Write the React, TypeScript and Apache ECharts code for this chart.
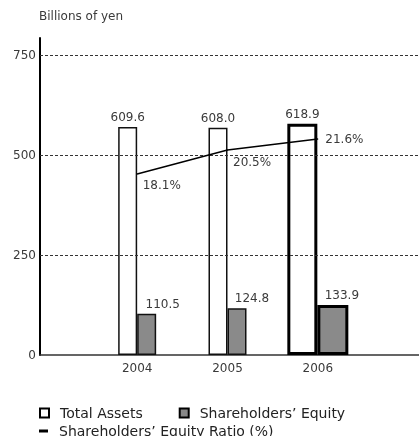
import React, { useEffect, useRef } from "react";
import * as echarts from "echarts";

const years = ["2004", "2005", "2006"];
const totalAssets = [609.6, 608.0, 618.9];
const equity = [110.5, 124.8, 133.9];
const equityRatio = [18.1, 20.5, 21.6];
const yTicks = [250, 500, 750];
const highlightIndex = 2;

const FONT = "DejaVu Sans";
const TXT = "#3a3a3a";

export default function App() {
  const ref = useRef<HTMLDivElement>(null);
  useEffect(() => {
    if (!ref.current) return;
    const chart = echarts.init(ref.current, undefined, { renderer: "svg" });

    const normal = (arr: number[]) => arr.map((v, i) => (i === highlightIndex ? "-" : v));
    const high = (arr: number[]) => arr.map((v, i) => (i === highlightIndex ? v : "-"));
    const eqOffsets = [[16, 0], [15, 0], [9, 0]];
    const ratioOffsets = [[0, 11], [0, 12], [2, 0]];

    const assetLabel = { show: true, position: "top", distance: 4, fontFamily: FONT, fontSize: 12, color: TXT, formatter: (p: any) => Number(p.value).toFixed(1) };
    const eqData = (arr: (number | string)[]) =>
      arr.map((v, i) => ({ value: v, label: { offset: eqOffsets[i] } }));

    chart.setOption({
      animation: false,
      title: {
        text: "Billions of yen",
        left: 39,
        top: 10,
        padding: 0,
        textStyle: { fontFamily: FONT, fontSize: 12, fontWeight: "normal", color: TXT },
      },
      legend: [
        {
          left: 39,
          top: 406,
          padding: 0,
          itemWidth: 9,
          itemHeight: 9,
          itemGap: 36,
          textStyle: { fontFamily: FONT, fontSize: 14, color: "#222", padding: [0, 0, 0, 6] },
          data: [
            { name: "Total Assets", icon: "rect", itemStyle: { color: "#fff", borderColor: "#000", borderWidth: 2 } },
            { name: "Shareholders’ Equity", icon: "rect", itemStyle: { color: "#888", borderColor: "#000", borderWidth: 2 } },
          ],
        },
        {
          left: 39,
          top: 424,
          padding: 0,
          itemWidth: 9,
          itemHeight: 3,
          textStyle: { fontFamily: FONT, fontSize: 14, color: "#222", padding: [0, 0, 0, 6] },
          data: [{ name: "Shareholders’ Equity Ratio (%)", icon: "rect", itemStyle: { color: "#000" } }],
        },
      ],
      grid: [
        { left: 40, right: 0, top: 38, bottom: 81 },
        { left: 92, right: 56, top: 38, bottom: 81 },
      ],
      xAxis: [
        {
          gridIndex: 0,
          type: "category",
          data: [""],
          axisLine: { show: true, lineStyle: { color: "#333", width: 1.5 } },
          axisTick: { show: false },
          axisLabel: { show: false },
        },
        {
          gridIndex: 1,
          type: "category",
          data: years,
          axisLine: { show: false },
          axisTick: { show: false },
          axisLabel: { fontFamily: FONT, fontSize: 12, color: TXT, margin: 7 },
        },
        {
          gridIndex: 1,
          type: "category",
          data: years,
          show: false,
        },
      ],
      yAxis: [
        {
          gridIndex: 0,
          type: "value",
          min: 0,
          max: 792.5,
          interval: 250,
          axisLine: { show: true, lineStyle: { color: "#000", width: 2 } },
          axisTick: { show: false },
          splitLine: { show: false },
          axisLabel: { fontFamily: FONT, fontSize: 12, color: TXT, margin: 4, showMaxLabel: false },
        },
        { gridIndex: 1, type: "value", min: 0, max: 848, show: false, splitLine: { show: false } },
        { gridIndex: 1, type: "value", min: 0, max: 31.7, show: false, splitLine: { show: false } },
      ],
      series: [
        {
          type: "line",
          name: "grid",
          xAxisIndex: 0,
          yAxisIndex: 0,
          data: [],
          silent: true,
          markLine: {
            silent: true,
            symbol: "none",
            label: { show: false },
            lineStyle: { color: "#333", width: 1, type: [3, 2] },
            data: yTicks.map((v) => ({ yAxis: v })),
          },
        },
        {
          type: "bar",
          name: "Total Assets",
          xAxisIndex: 1,
          yAxisIndex: 1,
          data: normal(totalAssets),
          barWidth: 19,
          barGap: 0,
          itemStyle: { color: "#fff", borderColor: "#111", borderWidth: 1.5 },
          label: assetLabel,
        },
        {
          type: "bar",
          name: "Shareholders’ Equity",
          xAxisIndex: 1,
          yAxisIndex: 1,
          data: eqData(normal(equity)),
          barWidth: 19,
          barGap: 0,
          itemStyle: { color: "#8a8a8a", borderColor: "#111", borderWidth: 1.5 },
          label: { ...assetLabel },
        },
        {
          type: "bar",
          name: "Total Assets",
          xAxisIndex: 2,
          yAxisIndex: 1,
          data: high(totalAssets),
          barWidth: 30,
          barGap: 0,
          itemStyle: { color: "#fff", borderColor: "#000", borderWidth: 3 },
          label: assetLabel,
        },
        {
          type: "bar",
          name: "Shareholders’ Equity",
          xAxisIndex: 2,
          yAxisIndex: 1,
          data: eqData(high(equity)),
          barWidth: 31,
          barGap: 0,
          itemStyle: { color: "#8a8a8a", borderColor: "#000", borderWidth: 3 },
          label: { ...assetLabel },
        },
        {
          type: "line",
          name: "Shareholders’ Equity Ratio (%)",
          xAxisIndex: 1,
          yAxisIndex: 2,
          data: equityRatio.map((v, i) => ({ value: v, label: { offset: ratioOffsets[i] } })),
          symbol: "circle",
          symbolSize: 1,
          showSymbol: true,
          lineStyle: { color: "#000", width: 1.5 },
          itemStyle: { color: "#000" },
          z: 5,
          label: {
            show: true,
            position: "right",
            distance: 5,
            fontFamily: FONT,
            fontSize: 12,
            color: TXT,
            formatter: (p: any) => Number(p.value).toFixed(1) + "%",
          },
        },
      ],
    });
    return () => chart.dispose();
  }, []);
  return <div ref={ref} style={{ position: "fixed", left: 0, top: 0, width: 419, height: 436 }} />;
}
